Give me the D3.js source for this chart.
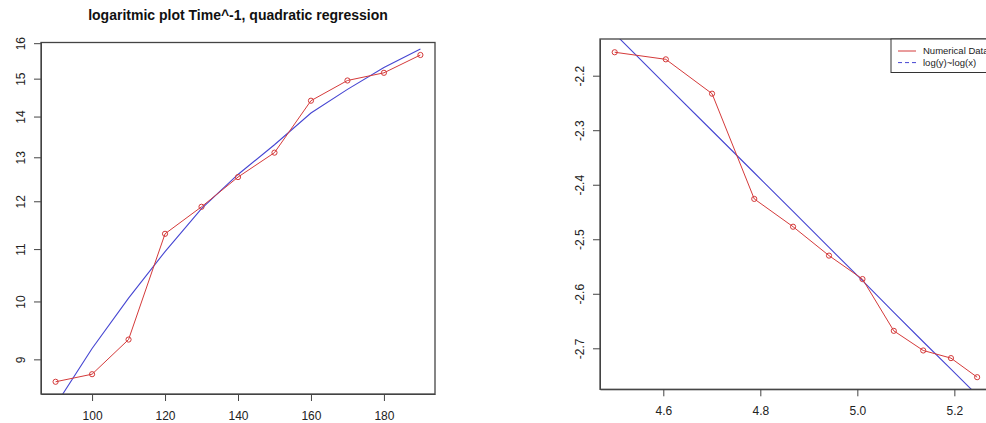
<!DOCTYPE html>
<html>
<head>
<meta charset="utf-8">
<script src="https://cdn.jsdelivr.net/npm/d3@7"></script>
<style>
  body { margin: 0; background: #fff; }
  svg { font-family: "Liberation Sans", Arial, sans-serif; }
  .axis path, .axis line { stroke: #444; }
  .axis text { fill: #222; }
</style>
</head>
<body>
<svg id="chart" width="986" height="423"></svg>
<script>
// left panel: time^-1 (log y axis) with quadratic fit
const sizes = [90, 100, 110, 120, 130, 140, 150, 160, 170, 180, 190];
const invTime = [8.64, 8.76, 9.33, 11.31, 11.88, 12.54, 13.11, 14.41, 14.95, 15.16, 15.66];
const quadFit = [8.28, 9.18, 10.06, 10.95, 11.84, 12.6, 13.3, 14.09, 14.71, 15.31, 15.83];
const leftXTicks = [100, 120, 140, 160, 180];
const leftYTicks = [9, 10, 11, 12, 13, 14, 15, 16];

// right panel: log(y) against log(x) with linear fit
const logSizes = [4.4998, 4.6052, 4.7005, 4.7875, 4.8675, 4.9416, 5.0106, 5.0752, 5.1358, 5.1930, 5.2470];
const logTime = [-2.157, -2.170, -2.233, -2.426, -2.477, -2.530, -2.573, -2.668, -2.704, -2.718, -2.753];
const logFit = [-2.123, -2.217, -2.301, -2.378, -2.449, -2.515, -2.576, -2.634, -2.688, -2.738, -2.786];
const rightXTicks = [4.6, 4.8, 5.0, 5.2];
const rightYTicks = [-2.2, -2.3, -2.4, -2.5, -2.6, -2.7];
const legendLabels = ["Numerical Data", "log(y)~log(x)"];

const red = "#d43a3a", blue = "#4646d2";
const svg = d3.select("#chart");

function panel(opts) {
  const { left, right, top, bottom, x, y, xTicks, yTicks, xFmt, yFmt } = opts;
  const g = svg.append("g");

  const xAxis = g.append("g").attr("class", "axis")
    .attr("transform", `translate(0,${bottom})`)
    .call(d3.axisBottom(x).tickValues(xTicks).tickFormat(xFmt).tickSize(7).tickPadding(10).tickSizeOuter(0));
  xAxis.select(".domain").attr("stroke", "none");
  xAxis.selectAll("text").style("font-size", "12px");

  const yAxis = g.append("g").attr("class", "axis")
    .attr("transform", `translate(${left},0)`)
    .call(d3.axisLeft(y).tickValues(yTicks).tickFormat(yFmt).tickSize(7).tickSizeOuter(0));
  yAxis.select(".domain").attr("stroke", "none");
  yAxis.selectAll("text")
    .attr("x", null).attr("dy", "0.35em")
    .attr("text-anchor", "middle")
    .attr("transform", `translate(-20,0) rotate(-90)`)
    .style("font-size", "12px");

  // plot region as a nested svg so lines are cut at the box like in R
  const inner = svg.append("svg")
    .attr("x", left).attr("y", top)
    .attr("width", right - left).attr("height", bottom - top)
    .style("overflow", "hidden")
    .append("g").attr("transform", `translate(${-left},${-top})`);

  // box around the plot region
  svg.append("rect")
    .attr("x", left).attr("y", top)
    .attr("width", right - left).attr("height", bottom - top)
    .attr("fill", "none").attr("stroke", "#444").attr("stroke-width", 1.3);

  return inner;
}

// ---- left panel ----
const lx = d3.scaleLinear().domain([86, 194]).range([41, 435]);
const ly = d3.scaleLog().domain([8.45, 16.02]).range([394, 42.5]);
const lp = panel({
  left: 41, right: 435, top: 42.5, bottom: 394,
  x: lx, y: ly, xTicks: leftXTicks, yTicks: leftYTicks,
  xFmt: d => d, yFmt: d => d
});

const lineL = d3.line().x((d, i) => lx(sizes[i])).y(d => ly(d));
lp.append("path").datum(quadFit).attr("d", lineL)
  .attr("fill", "none").attr("stroke", blue).attr("stroke-width", 1.1);
lp.append("path").datum(invTime).attr("d", lineL)
  .attr("fill", "none").attr("stroke", red).attr("stroke-width", 1);
lp.selectAll("circle").data(invTime).join("circle")
  .attr("cx", (d, i) => lx(sizes[i])).attr("cy", d => ly(d)).attr("r", 2.6)
  .attr("fill", "none").attr("stroke", red).attr("stroke-width", 1);

svg.append("text")
  .attr("x", (41 + 435) / 2).attr("y", 20)
  .attr("text-anchor", "middle")
  .style("font-size", "14px").style("font-weight", "bold").attr("fill", "#111")
  .text("logaritmic plot Time^-1, quadratic regression");

// ---- right panel ----
const rx = d3.scaleLinear().domain([4.4695, 5.277]).range([600, 991.7]);
const ry = d3.scaleLinear().domain([-2.7752, -2.1327]).range([389.3, 39]);
const rp = panel({
  left: 600, right: 992, top: 39, bottom: 389.3,
  x: rx, y: ry, xTicks: rightXTicks, yTicks: rightYTicks,
  xFmt: d => d.toFixed(1), yFmt: d => d.toFixed(1)
});

const lineR = d3.line().x((d, i) => rx(logSizes[i])).y(d => ry(d));
rp.append("path").datum(logFit).attr("d", lineR)
  .attr("fill", "none").attr("stroke", blue).attr("stroke-width", 1.1);
rp.append("path").datum(logTime).attr("d", lineR)
  .attr("fill", "none").attr("stroke", red).attr("stroke-width", 1);
rp.selectAll("circle").data(logTime).join("circle")
  .attr("cx", (d, i) => rx(logSizes[i])).attr("cy", d => ry(d)).attr("r", 2.6)
  .attr("fill", "none").attr("stroke", red).attr("stroke-width", 1);

// legend in the top right corner
const lg = svg.append("g").attr("transform", "translate(891,39)");
lg.append("rect").attr("width", 120).attr("height", 33.5)
  .attr("fill", "#fff").attr("stroke", "#333").attr("stroke-width", 1);
const legendColors = [red, blue];
const legendDash = [null, "4,3"];
legendLabels.forEach((lab, i) => {
  const yy = 12 + i * 11.6;
  lg.append("line").attr("x1", 7).attr("x2", 25).attr("y1", yy).attr("y2", yy)
    .attr("stroke", legendColors[i]).attr("stroke-width", 1)
    .attr("stroke-dasharray", legendDash[i]);
  lg.append("text").attr("x", 32).attr("y", yy).attr("dy", "0.35em")
    .style("font-size", "9.5px").attr("fill", "#222").text(lab);
});
</script>
</body>
</html>
